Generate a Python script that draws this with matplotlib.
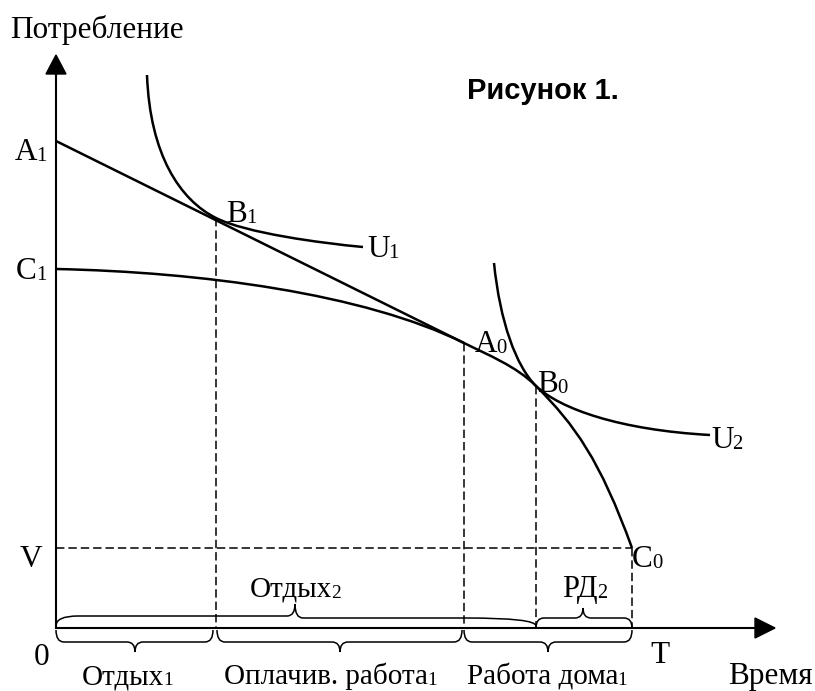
import numpy as np
import matplotlib
matplotlib.use('Agg')
import matplotlib.pyplot as plt
from matplotlib.path import Path
from matplotlib.patches import PathPatch

W, H = 815, 691

# Key points (pixel units, y grows downward)
A1 = (56, 141)
C1 = (56, 269)
B1 = (216, 218)
A0 = (464, 343)
B0 = (536, 386)
C0 = (632, 548)
V_y = 548
axis_y = 628
axis_x = 56
y_tip = 55
x_tip = 775

# Bezier control points of the curves (start, c1, c2, end, c1, c2, end, ...)
U1_pts = [(147, 75), (150, 155), (180, 200), B1,
          (246, 233), (320, 243), (363, 247)]
U2_pts = [(494, 263), (500, 322), (516, 366), B0,
          (560, 409), (620, 430), (710, 435)]
PPF_pts = [C1, (200, 272), (364, 293.5), A0,
           (488, 355), (516, 366), B0,
           (575, 425), (600, 460), C0]

# braces: (x0, x1, x_tip, y_end, y_mid_left, y_mid_right, y_tip, q_left, q_right)
braces = [
    (56, 213, 135, 630, 642, 642, 652, 8, 8),
    (217, 462, 340, 630, 642, 642, 652, 8, 8),
    (464, 632, 548, 630, 642, 642, 652, 8, 8),
    (56, 536, 295, 626, 616, 618, 604, 22, 70),
    (536, 632, 583, 628, 618, 618, 608, 8, 8),
]

# labels: (x_left, baseline, main, subscript, size)
labels = [
    (15, 160, 'A', '1', 22.5),
    (16, 279, 'C', '1', 22.5),
    (20, 567, 'V', '', 22.5),
    (34, 665, '0', '', 22.5),
    (226, 222, 'B', '1', 22.5),
    (367, 257, 'U', '1', 22.5),
    (475, 352, 'A', '0', 22.5),
    (537, 392, 'B', '0', 22.5),
    (711, 448, 'U', '2', 22.5),
    (632, 567, 'C', '0', 22.5),
    (562, 597, 'РД', '2', 22),
    (250, 597, 'Отдых', '2', 21),
    (82, 684, 'Отдых', '1', 21),
    (224, 684, 'Оплачив. работа', '1', 21),
    (467, 684, 'Работа дома', '1', 21),
    (650, 663, 'T', '', 22.5),
    (728, 684, 'Время', '', 22.5),
    (10, 38, 'Потребление', '', 22.5),
]


def bezier(ax, pts, lw):
    codes = [Path.MOVETO] + [Path.CURVE4] * (len(pts) - 1)
    ax.add_patch(PathPatch(Path(pts, codes), fill=False, lw=lw,
                           edgecolor='black', capstyle='butt'))


def brace(ax, x0, x1, xt, ye, yl, yr, yt, ql, qr, lw=1.1):
    q = 8
    verts = [(x0, ye), (x0, yl), (x0 + ql, yl),
             (xt - q, yl),
             (xt, yl), (xt, yt),
             (xt, yr), (xt + q, yr),
             (x1 - qr, yr),
             (x1, yr), (x1, ye)]
    codes = [Path.MOVETO, Path.CURVE3, Path.CURVE3,
             Path.LINETO,
             Path.CURVE3, Path.CURVE3,
             Path.CURVE3, Path.CURVE3,
             Path.LINETO,
             Path.CURVE3, Path.CURVE3]
    ax.add_patch(PathPatch(Path(verts, codes), fill=False, lw=lw,
                           edgecolor='black'))


fig = plt.figure(figsize=(W / 100, H / 100), dpi=100)
ax = fig.add_axes([0, 0, 1, 1])
ax.set_xlim(0, W)
ax.set_ylim(H, 0)
ax.axis('off')

# axes with arrows
ax.plot([axis_x, axis_x], [axis_y, y_tip + 18], color='black', lw=1.5)
ax.plot([axis_x, x_tip - 18], [axis_y, axis_y], color='black', lw=1.5)
ax.fill([axis_x - 10, axis_x + 10, axis_x],
        [y_tip + 19, y_tip + 19, y_tip], color='black')
ax.fill([x_tip - 20, x_tip - 20, x_tip],
        [axis_y - 10, axis_y + 10, axis_y], color='black')

# dashed guides
dash = (0, (5.5, 2.6))
for p in [B1, A0, B0, C0]:
    ax.plot([p[0], p[0]], [p[1], axis_y], color='black', lw=1.1,
            linestyle=dash)
ax.plot([axis_x, C0[0]], [V_y, V_y], color='black', lw=1.1, linestyle=dash)

# budget line and curves
ax.plot([A1[0], A0[0]], [A1[1], A0[1]], color='black', lw=1.8,
        solid_capstyle='butt')
bezier(ax, U1_pts, 1.8)
bezier(ax, U2_pts, 1.8)
bezier(ax, PPF_pts, 1.8)

for b in braces:
    brace(ax, *b)

fig.canvas.draw()
renderer = fig.canvas.get_renderer()
serif = 'Liberation Serif'
for x, y, main, sub, size in labels:
    t = ax.text(x, y, main, family=serif, fontsize=size, ha='left',
                va='baseline')
    if sub:
        bb = t.get_window_extent(renderer)
        ax.text(bb.x1 - 1, y + 1, sub, family=serif, fontsize=size * 0.66,
                ha='left', va='baseline')

ax.text(467, 99, 'Рисунок 1.', family='Liberation Sans', fontweight='bold',
        fontsize=21, ha='left', va='baseline')

fig.savefig('out.png', dpi=100)
